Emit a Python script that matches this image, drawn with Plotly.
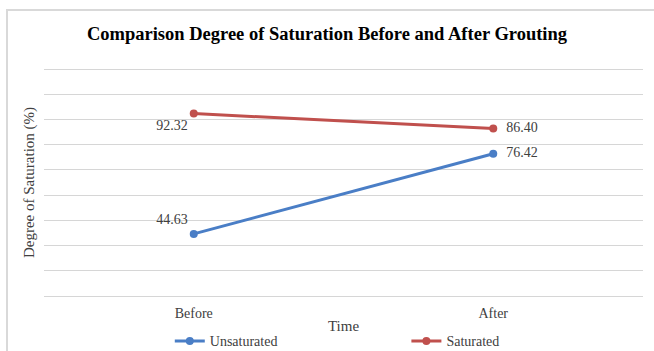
import plotly.graph_objects as go

# Data
categories = ["Before", "After"]
unsaturated = [44.63, 76.42]
saturated = [92.32, 86.40]
unsat_labels = ["44.63", "\u00a0\u00a076.42"]
sat_labels = ["92.32", "\u00a0\u00a086.40"]
grid_values = [20, 30, 40, 50, 60, 70, 80, 90, 100, 110]

BLUE = "#4A7EC6"
RED = "#C0504D"
SERIF = "Liberation Serif, Times New Roman, serif"
TXT = "#404040"

fig = go.Figure()

fig.add_trace(go.Scatter(
    x=categories, y=unsaturated, name="Unsaturated",
    mode="lines+markers+text",
    line=dict(color=BLUE, width=3),
    marker=dict(color=BLUE, size=8),
    text=unsat_labels,
    textposition=["top left", "middle right"],
    textfont=dict(family=SERIF, size=14, color=TXT),
    cliponaxis=False,
    showlegend=True,
    legend="legend",
))

fig.add_trace(go.Scatter(
    x=categories, y=saturated, name="Saturated",
    mode="lines+markers+text",
    line=dict(color=RED, width=3),
    marker=dict(color=RED, size=8),
    text=sat_labels,
    textposition=["bottom left", "middle right"],
    textfont=dict(family=SERIF, size=14, color=TXT),
    cliponaxis=False,
    showlegend=True,
    legend="legend2",
))

# Outer chart border (left and top edges visible)
fig.add_shape(
    type="rect", xref="paper", yref="paper",
    x0=-0.0618, x1=1.05, y0=-0.4, y1=1.240,
    line=dict(color="#D9D9D9", width=2), fillcolor="rgba(0,0,0,0)",
    layer="below",
)

legend_common = dict(
    orientation="h", yanchor="middle", y=-0.182,
    font=dict(family=SERIF, size=14, color=TXT),
    bgcolor="rgba(0,0,0,0)", itemwidth=30, visible=True,
)

fig.update_layout(
    width=654, height=351,
    showlegend=True,
    margin=dict(l=44, r=11, t=66, b=52, autoexpand=False),
    paper_bgcolor="white", plot_bgcolor="white",
    font=dict(family=SERIF, color=TXT),
    title=dict(
        text="<b>Comparison Degree of Saturation Before and After Grouting</b>",
        x=0.5, xanchor="center", y=0.905, yanchor="middle",
        font=dict(family=SERIF, size=18.5, color="black"),
    ),
    xaxis=dict(
        type="category", showgrid=False, zeroline=False, showline=False,
        range=[-0.5, 1.5], automargin=False,
        ticks="outside", ticklen=1, tickcolor="rgba(0,0,0,0)",
        tickfont=dict(family=SERIF, size=14, color=TXT),
        title=dict(text="Time", font=dict(family=SERIF, size=15, color=TXT),
                   standoff=0),
    ),
    yaxis=dict(
        range=[18.81, 111.19], tickvals=grid_values, automargin=False,
        showgrid=True, gridcolor="#D6D6D6", gridwidth=1,
        zeroline=False, showline=False, showticklabels=False,
        title=dict(text="Degree of Saturation (%)",
                   font=dict(family=SERIF, size=15, color=TXT),
                   standoff=4),
    ),
    legend=dict(x=0.21, xanchor="left", **legend_common),
    legend2=dict(x=0.605, xanchor="left", **legend_common),
)

fig.write_html("out.html")
